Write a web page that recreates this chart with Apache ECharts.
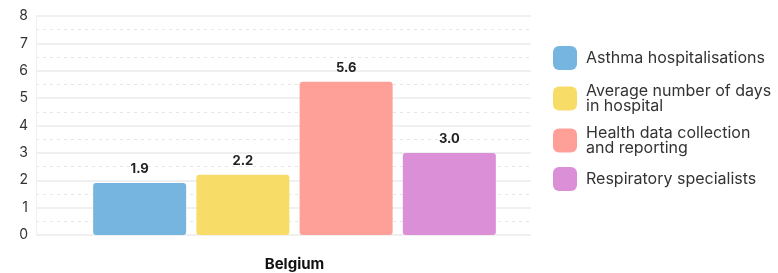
<!DOCTYPE html>
<html>
<head>
<meta charset="utf-8">
<script src="https://cdn.jsdelivr.net/npm/echarts@6/dist/echarts.min.js"></script>
<style>
  html, body { margin: 0; padding: 0; background: #fff; }
  #chart { width: 778px; height: 273px; }
</style>
</head>
<body>
<div id="chart"></div>
<script>
const categories = ['Belgium'];
const seriesNames = [
  'Asthma hospitalisations',
  'Average number of days\nin hospital',
  'Health data collection\nand reporting',
  'Respiratory specialists'
];
const seriesValues = [[1.9], [2.2], [5.6], [3.0]];
const seriesColors = ['#77b5e1', '#f7dc68', '#fea097', '#da8fd7'];
const legendTops = [41, 78, 120, 162];

const fontFamily = 'Inter, "Noto Sans", sans-serif';

const chart = echarts.init(document.getElementById('chart'));

const series = seriesNames.map((name, i) => ({
  name: name,
  type: 'bar',
  data: seriesValues[i],
  barWidth: 93,
  barGap: '11%',
  itemStyle: {
    color: seriesColors[i],
    borderRadius: 3
  },
  label: {
    show: true,
    position: 'top',
    distance: 7,
    formatter: p => p.value.toFixed(1),
    fontFamily: fontFamily,
    fontWeight: 'bold',
    fontSize: 13,
    color: '#222'
  }
}));

// one legend per item so the rows sit where they do in the picture
const legends = seriesNames.map((name, i) => ({
  data: [name],
  orient: 'vertical',
  left: 548,
  top: legendTops[i],
  itemWidth: 24,
  itemHeight: 24,
  itemGap: 0,
  icon: 'roundRect',
  selectedMode: false,
  textStyle: {
    fontFamily: fontFamily,
    fontSize: 16,
    color: '#333',
    lineHeight: 15,
    padding: [0, 0, 0, 4]
  }
}));

const option = {
  animation: false,
  grid: {
    left: 36,
    right: 225,
    top: 16,
    bottom: 38
  },
  legend: legends,
  xAxis: {
    type: 'category',
    data: categories,
    axisLine: { show: false },
    axisTick: { show: false },
    axisLabel: {
      margin: 22,
      fontFamily: fontFamily,
      fontWeight: 'bold',
      fontSize: 15,
      color: '#111'
    }
  },
  yAxis: {
    type: 'value',
    min: 0,
    max: 8,
    interval: 1,
    axisLine: { show: true, lineStyle: { color: '#f0f0f0', width: 1 } },
    axisTick: { show: false },
    axisLabel: {
      margin: 8,
      fontFamily: fontFamily,
      fontSize: 14,
      color: '#333'
    },
    splitLine: { lineStyle: { color: '#f0f0f0', width: 2 } },
    minorTick: { show: false, splitNumber: 2 },
    minorSplitLine: {
      show: true,
      lineStyle: { color: '#e6e6e6', type: [3, 4], width: 1 }
    }
  },
  graphic: [{
    type: 'rect',
    shape: { x: 531, y: 0, width: 24, height: 240 },
    style: { fill: '#fff' },
    z: 1
  }],
  series: series
};

chart.setOption(option);
</script>
</body>
</html>
